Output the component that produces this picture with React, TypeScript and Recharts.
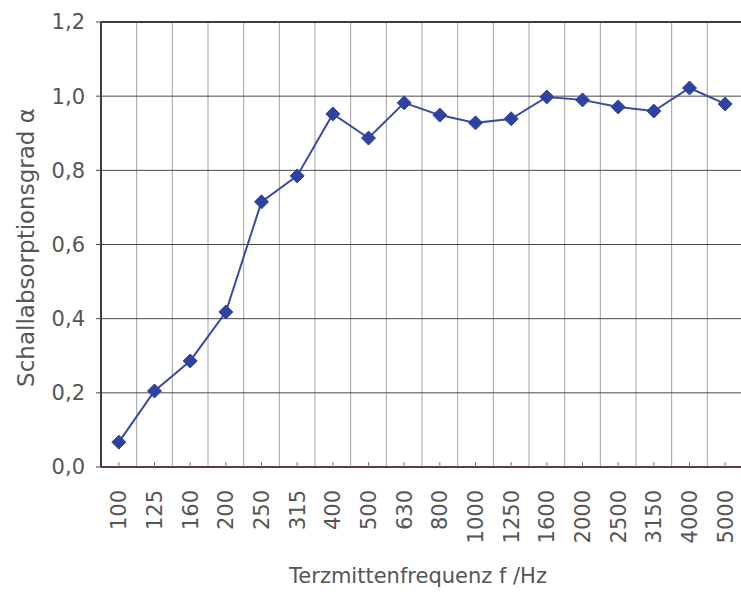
import React from "react";
import {
  LineChart,
  Line,
  XAxis,
  YAxis,
  CartesianGrid,
  ReferenceLine,
} from "recharts";

// Terzmittenfrequenzen (Hz) und gemessener Schallabsorptionsgrad
const FREQS = ["100", "125", "160", "200", "250", "315", "400", "500", "630", "800", "1000", "1250", "1600", "2000", "2500", "3150", "4000", "5000"];
const ALPHA = [0.067, 0.205, 0.286, 0.418, 0.715, 0.785, 0.952, 0.887, 0.982, 0.949, 0.928, 0.939, 0.998, 0.99, 0.971, 0.96, 1.022, 0.979];
const Y_TICKS = [0, 0.2, 0.4, 0.6, 0.8, 1.0, 1.2];

const FONT = "'DejaVu Sans', sans-serif";
const TEXT = "#555";

const data = FREQS.map((f, i) => ({ idx: i, freq: f, alpha: ALPHA[i] }));
const xTicks = FREQS.map((_, i) => i);
// gridlines sit between the bands, not on the categories
const bandEdges = FREQS.slice(1).map((_, i) => i + 0.5);

const fmtAlpha = (v: number) => v.toFixed(1).replace(".", ",");

function FreqTick(props: any) {
  const { x, y, payload } = props;
  return (
    <text
      transform={`translate(${x},${y}) rotate(-90)`}
      textAnchor="end"
      dy="0.36em"
      fontSize={21}
      fontFamily={FONT}
      fill={TEXT}
    >
      {FREQS[payload.value]}
    </text>
  );
}

function Diamond(props: any) {
  const { cx, cy, index } = props;
  if (cx == null || cy == null) return <g key={index} />;
  const r = 7;
  return (
    <path
      key={index}
      d={`M${cx},${cy - r}L${cx + r},${cy}L${cx},${cy + r}L${cx - r},${cy}Z`}
      fill="#2e42a2"
      stroke="#2e42a2"
      strokeWidth={1}
    />
  );
}

function YTitle(props: any) {
  const { viewBox } = props;
  const cy = viewBox.y + viewBox.height / 2 + 3;
  return (
    <text
      transform={`translate(26,${cy}) rotate(-90)`}
      textAnchor="middle"
      dominantBaseline="central"
      fontSize={23}
      fontFamily={FONT}
      fill={TEXT}
    >
      Schallabsorptionsgrad α
    </text>
  );
}

function XTitle(props: any) {
  const { viewBox } = props;
  return (
    <text
      x={418}
      y={viewBox.y + viewBox.height - 9}
      textAnchor="middle"
      fontSize={21}
      fontFamily={FONT}
      fill={TEXT}
    >
      Terzmittenfrequenz f /Hz
    </text>
  );
}

export default function App() {
  return (
    <div
      style={{
        position: "absolute",
        left: 0,
        top: 0,
        width: 741,
        height: 592,
        overflow: "hidden",
        background: "#fff",
      }}
    >
      <LineChart
        width={760}
        height={592}
        data={data}
        margin={{ top: 22, right: 17, left: 0, bottom: 0 }}
      >
        <CartesianGrid
          horizontal={false}
          xAxisId="bands"
          stroke="#a0a0a0"
          strokeWidth={1}
        />
        <CartesianGrid vertical={false} stroke="#4a4a4a" strokeWidth={1} />
        <XAxis
          xAxisId="bands"
          dataKey="idx"
          type="number"
          domain={[-0.5, FREQS.length - 0.5]}
          ticks={bandEdges}
          hide
        />
        <XAxis
          dataKey="idx"
          type="number"
          domain={[-0.5, FREQS.length - 0.5]}
          ticks={xTicks}
          interval={0}
          height={125}
          tick={<FreqTick />}
          tickSize={-5}
          tickMargin={28}
          tickLine={{ stroke: "#777", strokeWidth: 1 }}
          axisLine={{ stroke: "#5a3a42", strokeWidth: 2 }}
          label={<XTitle />}
        />
        <YAxis
          width={101}
          domain={[0, 1.2]}
          ticks={Y_TICKS}
          interval={0}
          tickFormatter={fmtAlpha}
          tickSize={5}
          tickMargin={11}
          tick={{ fontSize: 21, fontFamily: FONT, fill: TEXT }}
          tickLine={{ stroke: "#444", strokeWidth: 1 }}
          axisLine={{ stroke: "#3d3d3d", strokeWidth: 2 }}
          label={<YTitle />}
        />
        <ReferenceLine y={1.2} stroke="#3d3d3d" strokeWidth={2} />
        <Line
          dataKey="alpha"
          stroke="#3b4aa6"
          strokeWidth={2}
          dot={<Diamond />}
          activeDot={false}
          isAnimationActive={false}
        />
      </LineChart>
    </div>
  );
}
